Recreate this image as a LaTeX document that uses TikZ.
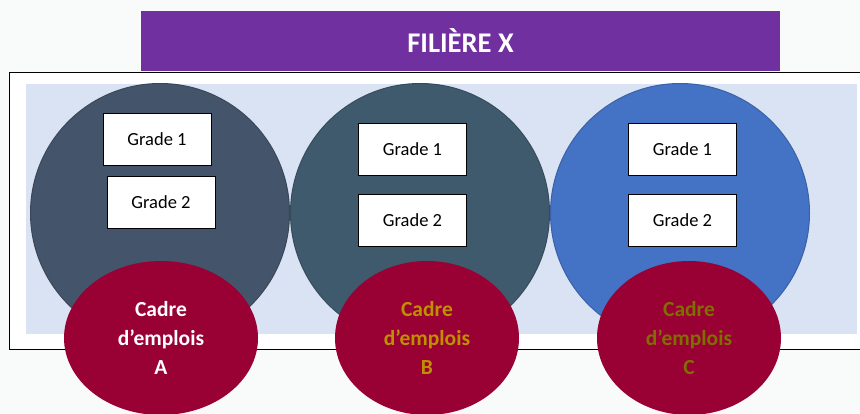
\documentclass[tikz,border=0pt]{standalone}
\usepackage{fontspec}
\setmainfont{Carlito}
\usetikzlibrary{shapes.geometric}

\definecolor{fond}{HTML}{F9FBFA}
\definecolor{violetfiliere}{HTML}{7030A0}
\definecolor{bleuclair}{HTML}{DAE3F3}
\definecolor{ardoise}{HTML}{44546A}
\definecolor{petrole}{HTML}{405A6D}
\definecolor{bleuvif}{HTML}{4472C4}
\definecolor{bordeaux}{HTML}{990033}
\definecolor{or}{HTML}{BF9000}
\definecolor{olive}{HTML}{806E00}

\begin{document}
\begin{tikzpicture}
[every node/.style={inner sep=0pt},
 cercle/.style={circle, minimum size=259pt, line width=1pt},
 grade/.style={rectangle, minimum width=108pt, minimum height=52pt, fill=white, draw=black, line width=0.8pt, font=\fontsize{18.5}{21}\selectfont},
 cadre/.style={ellipse, minimum width=184pt, minimum height=154pt, fill=bordeaux, align=center, font=\bfseries\fontsize{21.5}{29}\selectfont}]
\useasboundingbox (0pt,0pt) rectangle (860pt,-414pt);
\clip (0pt,0pt) rectangle (860pt,-414pt);
\fill [fond] (0pt,0pt) rectangle (860pt,-414pt);
% cadre et fond bleu
\node (cadreext) [rectangle, minimum width=870pt, minimum height=277pt, fill=white, draw=black, line width=1pt, anchor=north west] at (9pt, -72pt) {};
\node (fondbleu) [rectangle, minimum width=831pt, minimum height=250pt, fill=bleuclair, anchor=north west] at (26pt, -84pt) {};
% cercles
\node (cercleA) [cercle, fill=ardoise, draw=ardoise!85!black] at (160pt, -213pt) {};
\node (cercleB) [cercle, fill=petrole, draw=petrole!85!black] at (420pt, -213pt) {};
\node (cercleC) [cercle, fill=bleuvif, draw=bleuvif!85!black] at (680pt, -213pt) {};
% grades
\node (gradeA1) [grade] at (157pt, -139pt) {Grade 1};
\node (gradeA2) [grade] at (161pt, -202.5pt) {Grade 2};
\node (gradeB1) [grade] at (412.5pt, -149pt) {Grade 1};
\node (gradeB2) [grade] at (412.5pt, -220pt) {Grade 2};
\node (gradeC1) [grade] at (682.5pt, -149pt) {Grade 1};
\node (gradeC2) [grade] at (682.5pt, -220pt) {Grade 2};
% cadres d'emplois
\node (cadreA) [cadre, minimum width=194pt, text=white] at (161pt, -338pt) {Cadre\\d’emplois\\A};
\node (cadreB) [cadre, text=or] at (427pt, -338pt) {Cadre\\d’emplois\\B};
\node (cadreC) [cadre, text=olive] at (689pt, -338pt) {Cadre\\d’emplois\\C};
% titre
\node (filiere) [rectangle, minimum width=639pt, minimum height=60pt, fill=violetfiliere, text=white, font=\bfseries\fontsize{28.5}{32}\selectfont] at (460.5pt, -41pt) {FILIÈRE X};
\end{tikzpicture}
\end{document}
